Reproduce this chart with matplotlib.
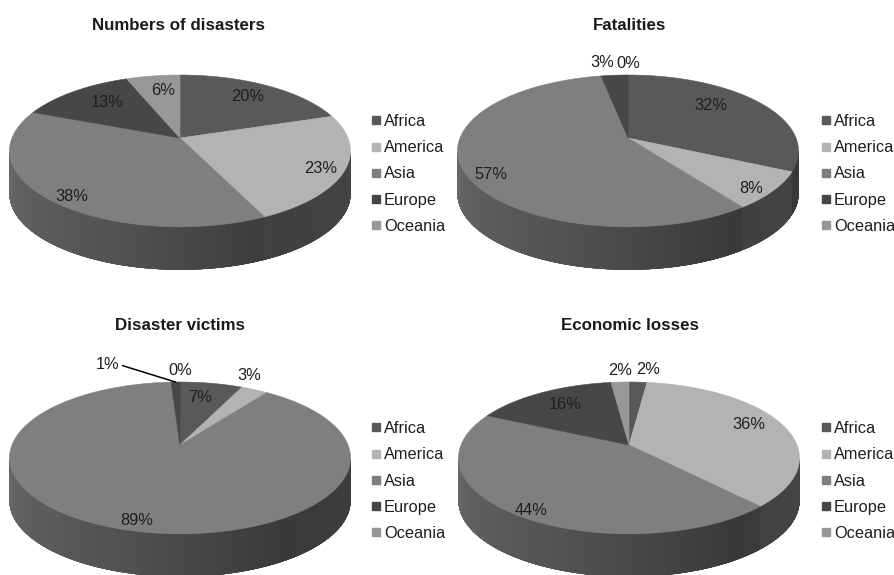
import numpy as np
import matplotlib
matplotlib.use("Agg")
import matplotlib.pyplot as plt
from matplotlib.patches import Polygon
from matplotlib.collections import PolyCollection
from matplotlib.lines import Line2D
from matplotlib.colors import to_rgb

plt.rcParams['font.family'] = ['Liberation Sans', 'DejaVu Sans']

# share of each region, in percent
regions = ["Africa", "America", "Asia", "Europe", "Oceania"]
region_colors = ["#595959", "#b3b3b3", "#7f7f7f", "#474747", "#979797"]

disasters_pct = [20, 23, 38, 13, 6]
fatalities_pct = [32, 8, 57, 3, 0]
victims_pct = [7, 3, 89, 1, 0]
losses_pct = [2, 36, 44, 16, 2]

titles = ["Numbers of disasters", "Fatalities", "Disaster victims", "Economic losses"]

# pie geometry, in panel pixels
RX, RY, PERSP, DEPTH = 168, 73.7, 0.17, 43
PANEL_W, PANEL_H = 447.5, 287.5
TEXT_SIZE = 11.8

# where each percentage sits: radius (1 = rim) and a small angle nudge in degrees
label_r = [
    [0.76, 0.87, 0.90, 0.71, 0.74],
    [0.71, 0.90, 0.88, 1.26, 1.23],
    [0.73, 1.23, 0.90, 1.45, 1.23],
    [1.24, 0.80, 0.92, 0.73, 1.23],
]
label_nudge = [
    [0, 3, -4, 3, 2],
    [-9, 3.6, -8, -3, 0],
    [-2, -7, -2, -19.5, 0],
    [2.7, -3, -2.5, 1, 0.6],
]


def project(theta, r, cx, cy, dz=0.0):
    """angle clockwise from 12 o'clock -> screen point of a tilted disc"""
    t = np.radians(theta)
    u = r * np.sin(t)
    v = -r * np.cos(t)
    d = 1 - PERSP * v
    return cx + RX * u / d, cy + RY * v / d + dz


def side_shade(theta, gray):
    f = np.interp(theta, [100, 150, 200, 260], [0.30, 0.28, 0.40, 0.50])
    return f * gray ** 0.3


def draw_pie(ax, values, cx, cy, radii, nudges, leader=None):
    vals = np.asarray(values, dtype=float)
    bounds = np.concatenate([[0], np.cumsum(vals)]) / vals.sum() * 360
    grays = [to_rgb(c)[0] for c in region_colors]

    # visible part of the rim wall, shaded in thin strips clipped to a smooth outline
    lo = np.degrees(np.arccos(-PERSP))
    hi = 360 - lo
    for i in range(len(vals)):
        a0, a1 = max(bounds[i], lo), min(bounds[i + 1], hi)
        if a1 <= a0:
            continue
        ts = np.linspace(a0, a1, max(2, int(2 * (a1 - a0)) + 1))
        xs, ys = project(ts, 1, cx, cy)
        outline = np.column_stack([np.r_[xs, xs[::-1]], np.r_[ys, ys[::-1] + DEPTH]])
        g_mid = side_shade((a0 + a1) / 2, grays[i])
        wall = Polygon(outline, closed=True, fc=(g_mid,) * 3, ec="none")
        ax.add_patch(wall)

        polys, cols = [], []
        for j in range(len(ts) - 1):
            x0, x1 = xs[j], xs[j + 1]
            polys.append([(x0, ys[j] - 2), (x1, ys[j + 1] - 2),
                          (x1, ys[j + 1] + DEPTH + 2), (x0, ys[j] + DEPTH + 2)])
            g = side_shade((ts[j] + ts[j + 1]) / 2, grays[i])
            cols.append((g, g, g))
        strips = PolyCollection(polys, facecolors=cols, edgecolors=cols,
                                linewidths=0.8, antialiased=False)
        ax.add_collection(strips)
        strips.set_clip_path(wall)

    # top face
    for i in range(len(vals)):
        if vals[i] == 0:
            continue
        ts = np.linspace(bounds[i], bounds[i + 1], max(2, int(bounds[i + 1] - bounds[i]) + 1))
        xs, ys = project(ts, 1, cx, cy)
        pts = np.column_stack([np.r_[cx, xs], np.r_[cy, ys]])
        ax.add_patch(Polygon(pts, closed=True, fc=region_colors[i], ec=region_colors[i], lw=0.4))

    # percentage labels
    for i, v in enumerate(values):
        mid = (bounds[i] + bounds[i + 1]) / 2
        x, y = project(mid + nudges[i], radii[i], cx, cy)
        if i == leader:
            ex, ey = project(mid, 1, cx, cy)
            ax.annotate(f"{v}%", xy=(ex, ey), xytext=(x, y), ha="center", va="center",
                        fontsize=TEXT_SIZE, color="#1e1e1e",
                        arrowprops=dict(arrowstyle="-", color="black", lw=1.1,
                                        shrinkA=0, shrinkB=0, relpos=(1.0, 0.45)))
        else:
            ax.text(x, y, f"{v}%", ha="center", va="center", fontsize=TEXT_SIZE, color="#1e1e1e")


fig = plt.figure(figsize=(8.95, 5.75), dpi=100)

panels = [
    # values, grid pos, pie centre, title pos, legend left, leader slice
    (disasters_pct, (0, 0), (180, 138), (179, 25), 371, None),
    (fatalities_pct, (1, 0), (180.5, 138), (182, 25), 373.5, None),
    (victims_pct, (0, 1), (180, 157.5), (180, 38.5), 371, 3),
    (losses_pct, (1, 1), (181.5, 157.5), (182.5, 38.5), 373.5, None),
]

for k, (vals, (col, row), (cx, cy), (tx, ty), lx, leader) in enumerate(panels):
    ax = fig.add_axes([col * 0.5, 0.5 - row * 0.5, 0.5, 0.5])
    ax.set_xlim(0, PANEL_W)
    ax.set_ylim(PANEL_H, 0)
    ax.axis("off")

    draw_pie(ax, vals, cx, cy, label_r[k], label_nudge[k], leader=leader)
    ax.text(tx, ty, titles[k], ha="center", va="center", fontsize=12.2,
            fontweight="bold", color="#1a1a1a")

    handles = [Line2D([], [], marker="s", ls="", color=c, markersize=6) for c in region_colors]
    ax.legend(handles, regions, loc="center left",
              bbox_to_anchor=(lx / PANEL_W, 1 - (cy + 36) / PANEL_H),
              frameon=False, fontsize=TEXT_SIZE, handlelength=0.55, handletextpad=0.25,
              labelspacing=0.68, borderpad=0, borderaxespad=0, labelcolor="#1e1e1e")

fig.savefig("out.png", dpi=100, facecolor="white")
